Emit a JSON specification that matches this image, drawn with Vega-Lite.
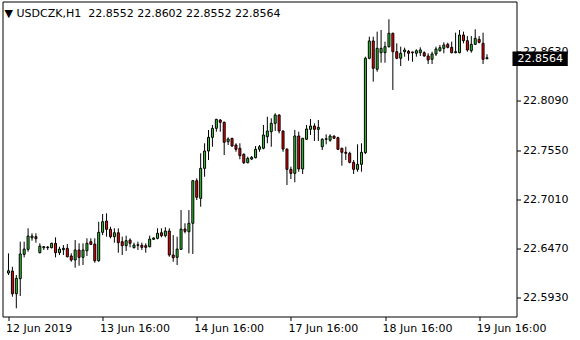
{
"$schema": "https://vega.github.io/schema/vega-lite/v6.json",
"width": 514, "height": 315,
"autosize": {"type": "none"},
"padding": {"left": 2.5, "top": 1.5, "right": 63.5, "bottom": 23.5},
"background": "white",
"config": {
  "view": {"stroke": "black", "strokeWidth": 1},
  "axis": {"labelFont": "DejaVu Sans", "labelFontSize": 11, "labelColor": "black", "tickColor": "black", "domain": false, "grid": false, "title": null, "labelFlush": false, "labelOverlap": false, "labelBound": false}
},
"title": {"text": "▼ USDCZK,H1\u00a0 22.8552 22.8602 22.8552 22.8564", "anchor": "start", "frame": "group", "orient": "top", "baseline": "top", "offset": 0, "dy": 17, "dx": 2, "font": "DejaVu Sans", "fontSize": 11, "fontWeight": "normal", "color": "black"},
"datasets": {
"candles": [
{"k":0,"o":22.6201,"h":22.6417,"l":22.6179,"c":22.6226},
{"k":1,"o":22.6223,"h":22.6270,"l":22.5941,"c":22.5974},
{"k":2,"o":22.5974,"h":22.6179,"l":22.5814,"c":22.6143},
{"k":3,"o":22.6139,"h":22.6545,"l":22.5949,"c":22.6410},
{"k":4,"o":22.6406,"h":22.6545,"l":22.6373,"c":22.6464},
{"k":5,"o":22.6461,"h":22.6692,"l":22.6435,"c":22.6607},
{"k":6,"o":22.6588,"h":22.6637,"l":22.6556,"c":22.6607},
{"k":7,"o":22.6600,"h":22.6637,"l":22.6534,"c":22.6578},
{"k":8,"o":22.6424,"h":22.6527,"l":22.6417,"c":22.6497},
{"k":9,"o":22.6479,"h":22.6497,"l":22.6454,"c":22.6490},
{"k":10,"o":22.6486,"h":22.6497,"l":22.6454,"c":22.6479},
{"k":11,"o":22.6479,"h":22.6534,"l":22.6472,"c":22.6527},
{"k":12,"o":22.6527,"h":22.6593,"l":22.6373,"c":22.6424},
{"k":13,"o":22.6424,"h":22.6490,"l":22.6399,"c":22.6464},
{"k":14,"o":22.6457,"h":22.6508,"l":22.6399,"c":22.6472},
{"k":15,"o":22.6472,"h":22.6519,"l":22.6373,"c":22.6380},
{"k":16,"o":22.6388,"h":22.6417,"l":22.6325,"c":22.6344},
{"k":17,"o":22.6344,"h":22.6563,"l":22.6259,"c":22.6454},
{"k":18,"o":22.6454,"h":22.6527,"l":22.6281,"c":22.6373},
{"k":19,"o":22.6373,"h":22.6527,"l":22.6289,"c":22.6454},
{"k":20,"o":22.6446,"h":22.6582,"l":22.6388,"c":22.6527},
{"k":21,"o":22.6545,"h":22.6582,"l":22.6508,"c":22.6516},
{"k":22,"o":22.6519,"h":22.6582,"l":22.6314,"c":22.6336},
{"k":23,"o":22.6336,"h":22.6764,"l":22.6325,"c":22.6648},
{"k":24,"o":22.6648,"h":22.6849,"l":22.6618,"c":22.6764},
{"k":25,"o":22.6772,"h":22.6856,"l":22.6600,"c":22.6681},
{"k":26,"o":22.6681,"h":22.6709,"l":22.6582,"c":22.6600},
{"k":27,"o":22.6600,"h":22.6692,"l":22.6534,"c":22.6643},
{"k":28,"o":22.6643,"h":22.6692,"l":22.6424,"c":22.6534},
{"k":29,"o":22.6545,"h":22.6600,"l":22.6399,"c":22.6501},
{"k":30,"o":22.6501,"h":22.6611,"l":22.6443,"c":22.6556},
{"k":31,"o":22.6563,"h":22.6582,"l":22.6483,"c":22.6527},
{"k":32,"o":22.6479,"h":22.6534,"l":22.6472,"c":22.6508},
{"k":33,"o":22.6505,"h":22.6545,"l":22.6454,"c":22.6512},
{"k":34,"o":22.6505,"h":22.6534,"l":22.6454,"c":22.6483},
{"k":35,"o":22.6501,"h":22.6527,"l":22.6424,"c":22.6483},
{"k":36,"o":22.6490,"h":22.6611,"l":22.6483,"c":22.6574},
{"k":37,"o":22.6571,"h":22.6593,"l":22.6563,"c":22.6585},
{"k":38,"o":22.6582,"h":22.6692,"l":22.6571,"c":22.6637},
{"k":39,"o":22.6643,"h":22.6692,"l":22.6593,"c":22.6611},
{"k":40,"o":22.6611,"h":22.6703,"l":22.6593,"c":22.6662},
{"k":41,"o":22.6662,"h":22.6692,"l":22.6380,"c":22.6399},
{"k":42,"o":22.6399,"h":22.6618,"l":22.6325,"c":22.6369},
{"k":43,"o":22.6373,"h":22.6600,"l":22.6289,"c":22.6464},
{"k":44,"o":22.6461,"h":22.6892,"l":22.6454,"c":22.6684},
{"k":45,"o":22.6684,"h":22.6747,"l":22.6637,"c":22.6659},
{"k":46,"o":22.6654,"h":22.6892,"l":22.6417,"c":22.6747},
{"k":47,"o":22.6747,"h":22.7222,"l":22.6410,"c":22.7214},
{"k":48,"o":22.7214,"h":22.7240,"l":22.7002,"c":22.7032},
{"k":49,"o":22.7021,"h":22.7515,"l":22.6929,"c":22.7350},
{"k":50,"o":22.7350,"h":22.7625,"l":22.7258,"c":22.7540},
{"k":51,"o":22.7540,"h":22.7771,"l":22.7441,"c":22.7690},
{"k":52,"o":22.7690,"h":22.7826,"l":22.7587,"c":22.7789},
{"k":53,"o":22.7789,"h":22.7892,"l":22.7752,"c":22.7888},
{"k":54,"o":22.7880,"h":22.7891,"l":22.7752,"c":22.7855},
{"k":55,"o":22.7855,"h":22.7864,"l":22.7496,"c":22.7636},
{"k":56,"o":22.7642,"h":22.7690,"l":22.7606,"c":22.7672},
{"k":57,"o":22.7680,"h":22.7683,"l":22.7587,"c":22.7595},
{"k":58,"o":22.7606,"h":22.7625,"l":22.7532,"c":22.7559},
{"k":59,"o":22.7570,"h":22.7625,"l":22.7449,"c":22.7489},
{"k":60,"o":22.7504,"h":22.7515,"l":22.7397,"c":22.7412},
{"k":61,"o":22.7412,"h":22.7478,"l":22.7405,"c":22.7460},
{"k":62,"o":22.7452,"h":22.7485,"l":22.7441,"c":22.7471},
{"k":63,"o":22.7467,"h":22.7595,"l":22.7460,"c":22.7559},
{"k":64,"o":22.7559,"h":22.7606,"l":22.7532,"c":22.7587},
{"k":65,"o":22.7570,"h":22.7826,"l":22.7559,"c":22.7716},
{"k":66,"o":22.7697,"h":22.7917,"l":22.7625,"c":22.7760},
{"k":67,"o":22.7752,"h":22.7899,"l":22.7587,"c":22.7844},
{"k":68,"o":22.7844,"h":22.7954,"l":22.7760,"c":22.7935},
{"k":69,"o":22.7935,"h":22.7943,"l":22.7734,"c":22.7760},
{"k":70,"o":22.7760,"h":22.7764,"l":22.7532,"c":22.7562},
{"k":71,"o":22.7562,"h":22.7565,"l":22.7167,"c":22.7339},
{"k":72,"o":22.7339,"h":22.7368,"l":22.7233,"c":22.7295},
{"k":73,"o":22.7295,"h":22.7771,"l":22.7197,"c":22.7705},
{"k":74,"o":22.7705,"h":22.7752,"l":22.7313,"c":22.7343},
{"k":75,"o":22.7343,"h":22.7683,"l":22.7288,"c":22.7680},
{"k":76,"o":22.7669,"h":22.7826,"l":22.7661,"c":22.7782},
{"k":77,"o":22.7778,"h":22.7891,"l":22.7716,"c":22.7815},
{"k":78,"o":22.7815,"h":22.7844,"l":22.7650,"c":22.7778},
{"k":79,"o":22.7778,"h":22.7880,"l":22.7650,"c":22.7800},
{"k":80,"o":22.7587,"h":22.7680,"l":22.7551,"c":22.7669},
{"k":81,"o":22.7669,"h":22.7723,"l":22.7614,"c":22.7675},
{"k":82,"o":22.7658,"h":22.7723,"l":22.7642,"c":22.7705},
{"k":83,"o":22.7705,"h":22.7708,"l":22.7675,"c":22.7680},
{"k":84,"o":22.7686,"h":22.7697,"l":22.7551,"c":22.7559},
{"k":85,"o":22.7570,"h":22.7576,"l":22.7379,"c":22.7526},
{"k":86,"o":22.7526,"h":22.7587,"l":22.7441,"c":22.7515},
{"k":87,"o":22.7515,"h":22.7532,"l":22.7405,"c":22.7416},
{"k":88,"o":22.7416,"h":22.7441,"l":22.7288,"c":22.7339},
{"k":89,"o":22.7339,"h":22.7614,"l":22.7313,"c":22.7394},
{"k":90,"o":22.7394,"h":22.7625,"l":22.7313,"c":22.7526},
{"k":91,"o":22.7522,"h":22.8575,"l":22.7507,"c":22.8558},
{"k":92,"o":22.8558,"h":22.8795,"l":22.8547,"c":22.8748},
{"k":93,"o":22.8748,"h":22.8795,"l":22.8301,"c":22.8448},
{"k":94,"o":22.8437,"h":22.8850,"l":22.8411,"c":22.8667},
{"k":95,"o":22.8619,"h":22.8868,"l":22.8509,"c":22.8667},
{"k":96,"o":22.8619,"h":22.8740,"l":22.8509,"c":22.8685},
{"k":97,"o":22.8685,"h":22.8986,"l":22.8676,"c":22.8832},
{"k":98,"o":22.8832,"h":22.8839,"l":22.8210,"c":22.8630},
{"k":99,"o":22.8630,"h":22.8722,"l":22.8547,"c":22.8558},
{"k":100,"o":22.8558,"h":22.8685,"l":22.8473,"c":22.8613},
{"k":101,"o":22.8630,"h":22.8674,"l":22.8575,"c":22.8649},
{"k":102,"o":22.8634,"h":22.8649,"l":22.8531,"c":22.8613},
{"k":103,"o":22.8627,"h":22.8630,"l":22.8520,"c":22.8619},
{"k":104,"o":22.8613,"h":22.8656,"l":22.8575,"c":22.8641},
{"k":105,"o":22.8619,"h":22.8678,"l":22.8583,"c":22.8649},
{"k":106,"o":22.8619,"h":22.8634,"l":22.8575,"c":22.8583},
{"k":107,"o":22.8583,"h":22.8613,"l":22.8495,"c":22.8539},
{"k":108,"o":22.8547,"h":22.8630,"l":22.8495,"c":22.8605},
{"k":109,"o":22.8605,"h":22.8685,"l":22.8583,"c":22.8660},
{"k":110,"o":22.8641,"h":22.8704,"l":22.8630,"c":22.8674},
{"k":111,"o":22.8667,"h":22.8733,"l":22.8613,"c":22.8704},
{"k":112,"o":22.8711,"h":22.8729,"l":22.8667,"c":22.8678},
{"k":113,"o":22.8678,"h":22.8740,"l":22.8613,"c":22.8619},
{"k":114,"o":22.8619,"h":22.8839,"l":22.8613,"c":22.8630},
{"k":115,"o":22.8619,"h":22.8868,"l":22.8613,"c":22.8813},
{"k":116,"o":22.8813,"h":22.8850,"l":22.8722,"c":22.8751},
{"k":117,"o":22.8751,"h":22.8802,"l":22.8630,"c":22.8649},
{"k":118,"o":22.8641,"h":22.8802,"l":22.8619,"c":22.8711},
{"k":119,"o":22.8711,"h":22.8876,"l":22.8704,"c":22.8777},
{"k":120,"o":22.8766,"h":22.8802,"l":22.8722,"c":22.8733},
{"k":121,"o":22.8722,"h":22.8839,"l":22.8495,"c":22.8547},
{"k":122,"o":22.8552,"h":22.8602,"l":22.8552,"c":22.8564}
],
"last": [{"price": 22.8564}]
},
"layer": [
  {"data": {"name": "candles"},
   "mark": {"type": "rule", "color": "black", "strokeWidth": 1},
   "encoding": {
     "x": {"field": "k", "type": "quantitative", "scale": {"domain": [-0.25, 128.25], "nice": false, "zero": false},
           "axis": {"orient": "bottom", "values": [0, 24, 48, 72, 96, 120], "tickSize": 4, "labelAlign": "left", "labelBaseline": "top", "labelPadding": 2, "labelOffset": -3,
                    "labelExpr": "datum.value == 0 ? '12 Jun 2019' : datum.value == 24 ? '13 Jun 16:00' : datum.value == 48 ? '14 Jun 16:00' : datum.value == 72 ? '17 Jun 16:00' : datum.value == 96 ? '18 Jun 16:00' : '19 Jun 16:00'"}},
     "y": {"field": "l", "type": "quantitative", "scale": {"domain": [22.5724, 22.9181], "nice": false, "zero": false},
           "axis": {"orient": "right", "values": [22.593, 22.647, 22.701, 22.755, 22.809, 22.863], "format": ".4f", "tickSize": 4, "labelPadding": 2}},
     "y2": {"field": "h"}
   }},
  {"data": {"name": "candles"},
   "mark": {"type": "bar", "width": 2, "stroke": "black", "strokeWidth": 1},
   "encoding": {
     "x": {"field": "k", "type": "quantitative"},
     "y": {"field": "o", "type": "quantitative"},
     "y2": {"field": "c"},
     "fill": {"condition": {"test": "datum.c >= datum.o", "value": "#32CD32"}, "value": "#FF0000"}
   }},
  {"data": {"name": "last"},
   "mark": {"type": "rect", "fill": "black"},
   "encoding": {
     "x": {"datum": 128.5, "type": "quantitative"},
     "x2": {"datum": 142.6},
     "y": {"datum": 22.8631, "type": "quantitative"},
     "y2": {"datum": 22.8473}
   }},
  {"data": {"name": "last"},
   "mark": {"type": "text", "align": "left", "baseline": "middle", "color": "white", "font": "DejaVu Sans", "fontSize": 11, "dy": 1},
   "encoding": {
     "x": {"datum": 129.8, "type": "quantitative"},
     "y": {"field": "price", "type": "quantitative"},
     "text": {"field": "price", "type": "quantitative", "format": ".4f"}
   }}
]
}
